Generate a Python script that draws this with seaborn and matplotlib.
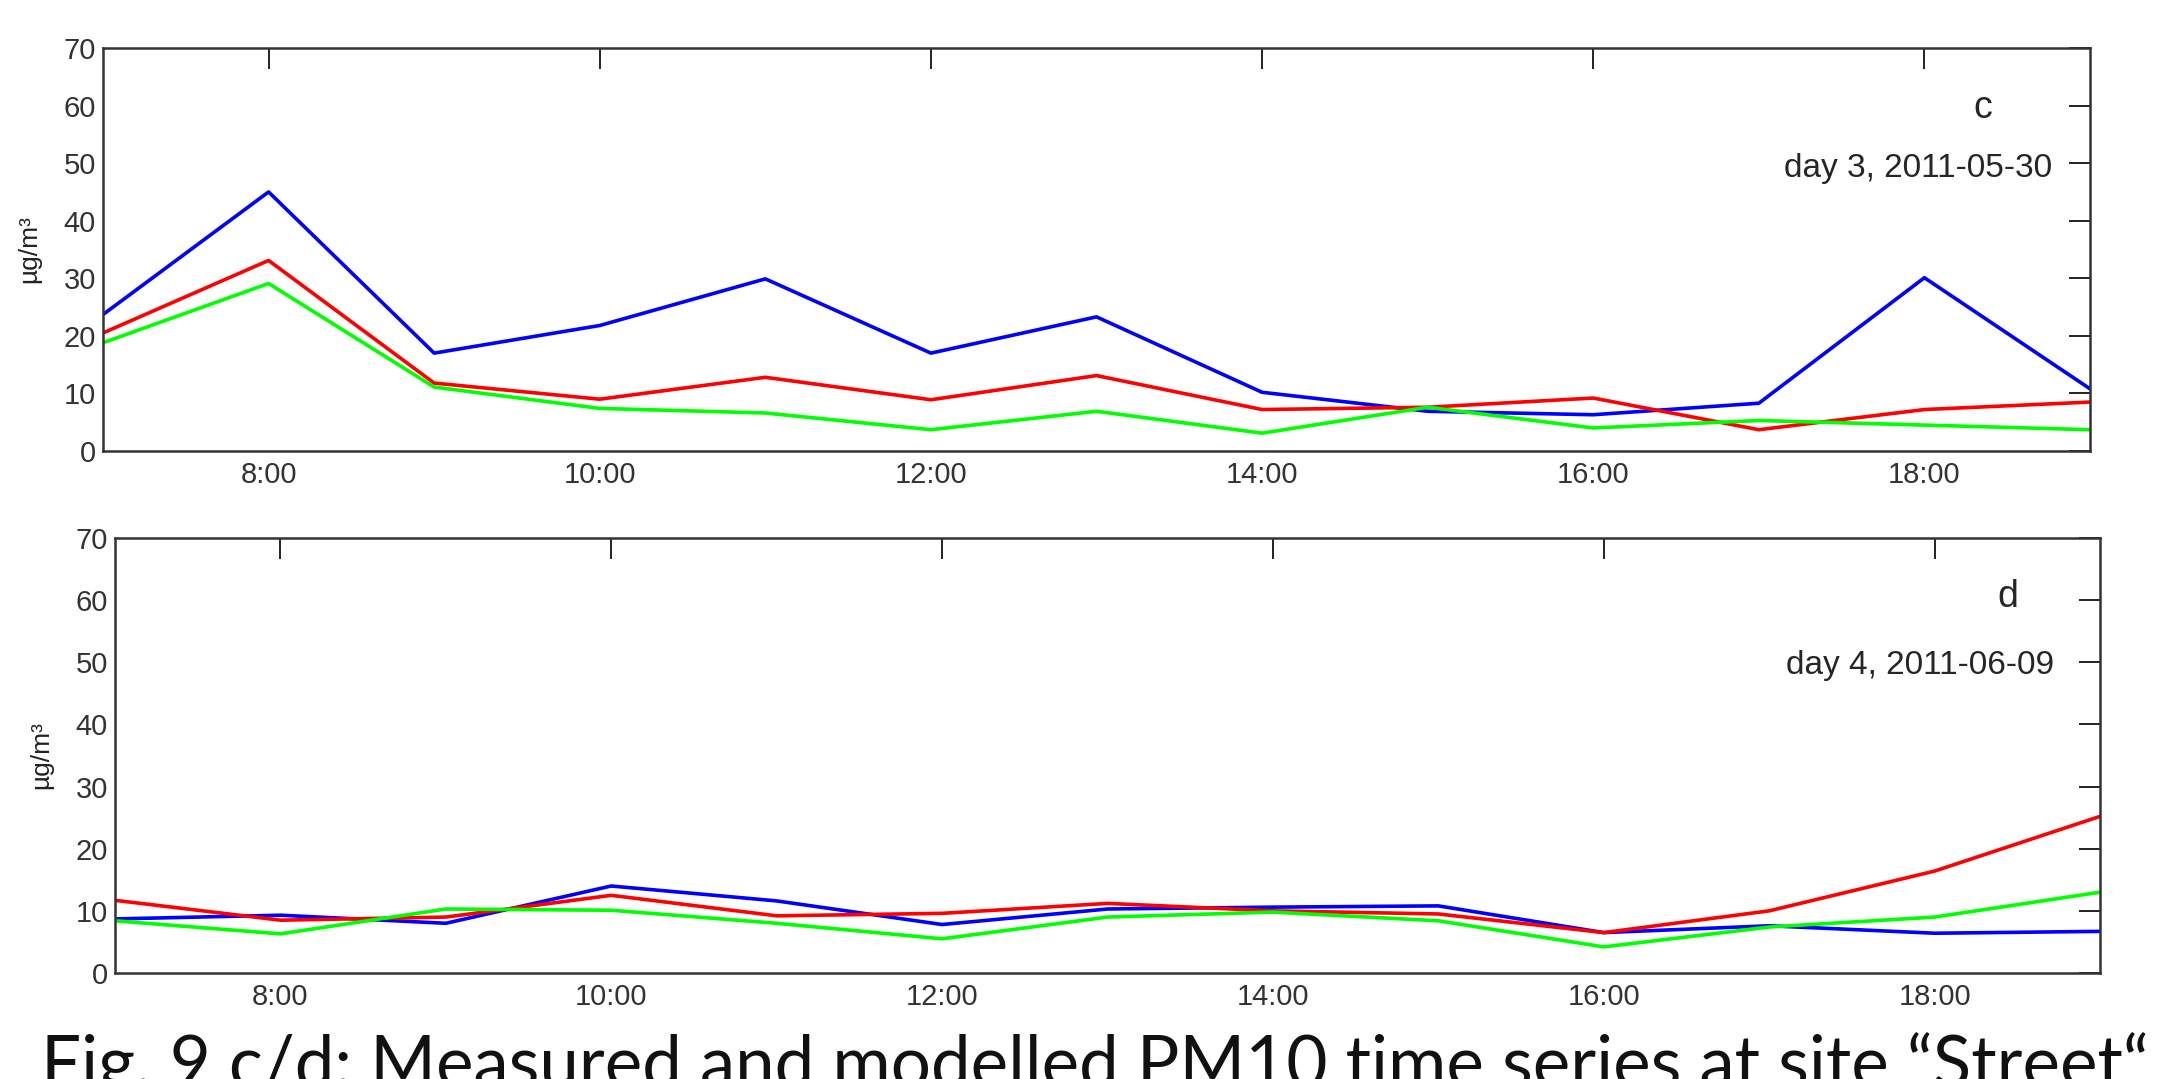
import matplotlib
matplotlib.use('Agg')
import matplotlib.pyplot as plt
import seaborn as sns
import pandas as pd

# hourly PM10 values (µg/m³), 7:00 .. 19:00
hours = list(range(7, 20))

day3_measured = [23.7, 45.0, 17.0, 21.8, 29.9, 17.0, 23.3, 10.2, 6.9, 6.3, 8.3, 30.1, 10.8]
day3_model_a = [20.5, 33.1, 11.8, 9.0, 12.8, 8.9, 13.1, 7.2, 7.6, 9.2, 3.7, 7.2, 8.5]
day3_model_b = [18.8, 29.1, 11.1, 7.4, 6.6, 3.7, 6.9, 3.1, 7.6, 4.0, 5.3, 4.5, 3.7]

day4_measured = [8.7, 9.3, 8.0, 14.0, 11.6, 7.8, 10.3, 10.6, 10.8, 6.5, 7.6, 6.4, 6.7]
day4_model_a = [11.7, 8.5, 9.0, 12.5, 9.2, 9.6, 11.2, 10.0, 9.5, 6.5, 10.0, 16.4, 25.2]
day4_model_b = [8.4, 6.3, 10.3, 10.1, 8.0, 5.5, 9.0, 9.8, 8.4, 4.2, 7.4, 9.0, 13.0]

series_order = ['measured', 'model A', 'model B']
palette = {'measured': '#0000ff', 'model A': '#ff0000', 'model B': '#00ff00'}

tick_hours = [8, 10, 12, 14, 16, 18]
tick_labels = ['8:00', '10:00', '12:00', '14:00', '16:00', '18:00']

caption = 'Fig. 9 c/d: Measured and modelled PM10 time series at site \u201cStreet\u201c'


def long_frame(measured, model_a, model_b):
    # Build a long-form table for seaborn
    parts = []
    for name, vals in zip(series_order, [measured, model_a, model_b]):
        parts.append(pd.DataFrame({'hour': hours, 'value': vals, 'series': name}))
    return pd.concat(parts, ignore_index=True)


def draw_panel(ax, df, letter, letter_xy, date_label, date_xy):
    sns.lineplot(data=df, x='hour', y='value', hue='series', hue_order=series_order,
                 palette=palette, linewidth=2.6, legend=False, ax=ax)
    ax.set_xlim(7, 19)
    ax.set_ylim(0, 70)
    ax.set_xticks(tick_hours)
    ax.set_xticklabels(tick_labels)
    ax.set_yticks(range(0, 71, 10))
    ax.set_xlabel('')
    ax.set_ylabel('µg/m³', fontsize=19, color='#222222')
    ax.yaxis.set_label_coords(-0.031, 0.5)
    ax.tick_params(direction='in', length=15, width=1.4, top=True, right=True,
                   labelsize=21, labelcolor='#333333', color='#222222')
    ax.tick_params(axis='x', pad=7)
    ax.tick_params(axis='y', pad=5)
    for side in ax.spines.values():
        side.set_linewidth(1.8)
        side.set_color('#333333')
    ax.text(letter_xy[0], letter_xy[1], letter, ha='center', va='center',
            fontsize=27, family=['Liberation Sans', 'DejaVu Sans'])
    ax.text(date_xy[0], date_xy[1], date_label, ha='right', va='center',
            fontsize=24, family=['Liberation Sans', 'DejaVu Sans'])


sns.set_style('white')
plt.rcParams['font.family'] = ['Liberation Sans', 'DejaVu Sans']

fig = plt.figure(figsize=(21.63, 10.79), dpi=100)
ax_c = fig.add_axes([103 / 2163, 1 - 451 / 1079, (2090 - 103) / 2163, (451 - 48) / 1079])
ax_d = fig.add_axes([115 / 2163, 1 - 973 / 1079, (2100 - 115) / 2163, (973 - 538) / 1079])

draw_panel(ax_c, long_frame(day3_measured, day3_model_a, day3_model_b),
           'c', (18.35, 59.5), 'day 3, 2011-05-30', (18.77, 49))
draw_panel(ax_d, long_frame(day4_measured, day4_model_a, day4_model_b),
           'd', (18.44, 60.5), 'day 4, 2011-06-09', (18.72, 49.5))

fig.text(41 / 2163, -0.007, caption, ha='left', va='baseline', fontsize=51,
         family=['Lato', 'DejaVu Sans'], color='#111111')

fig.savefig('out.png', dpi=100, facecolor='white')
